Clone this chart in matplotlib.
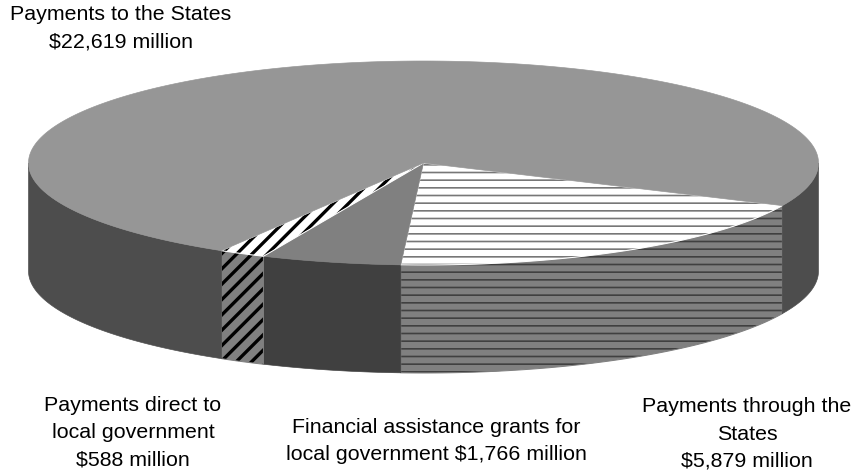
import matplotlib
matplotlib.use("Agg")
import matplotlib.pyplot as plt
from matplotlib.patches import Polygon
import numpy as np

plt.rcParams['font.family'] = ['Liberation Sans', 'DejaVu Sans']

# $ million, clockwise from the right hand side of the pie
names = ["Payments through the States", "Financial assistance grants",
         "Payments direct to local government", "Payments to the States"]
values = [5879, 1766, 588, 22619]

top_colors = ["white", "#808080", "white", "#969696"]
side_colors = ["#808080", "#404040", "#808080", "#4d4d4d"]
top_hatch = ["--", None, "//", None]
side_hatch_color = ["#404040", None, "black", None]
top_hatch_color = ["#777777", None, "black", None]
hatch_widths = [1.3, 0, 2.6, 0]

labels = ["Payments to the States\n$22,619 million",
          "Payments through the\nStates\n$5,879 million",
          "Financial assistance grants for\nlocal government $1,766 million",
          "Payments direct to\nlocal government\n$588 million"]
label_x = [121, 747, 436, 133]
label_y = [28, 434, 441, 433]

DPI = 92
cx, cy = 423.5, 163
rx, ry = 395, 102
depth = 108
start = 24.7


def ellipse_pts(a, b):
    t = np.radians(np.linspace(a, b, max(int(abs(b - a)) * 2, 2)))
    return cx + rx * np.cos(t), cy + ry * np.sin(t)


def add_poly(ax, xs, ys, face, hatch, hatch_color, lw):
    plt.rcParams['hatch.linewidth'] = lw if lw else 1.0
    pts = np.column_stack([xs, ys])
    if hatch:
        ax.add_patch(Polygon(pts, closed=True, facecolor=face, edgecolor=hatch_color,
                             hatch=hatch, linewidth=0))
        ax.add_patch(Polygon(pts, closed=True, fill=False, edgecolor=face, linewidth=0.8))
    else:
        ax.add_patch(Polygon(pts, closed=True, facecolor=face, edgecolor=face, linewidth=0.5))


def draw_side(ax, a, b, i):
    # only the front half of the rim can be seen
    a, b = max(a, 0), min(b, 180)
    if b <= a:
        return
    x, y = ellipse_pts(a, b)
    xs = np.concatenate([x, x[::-1]])
    ys = np.concatenate([y, y[::-1] + depth])
    add_poly(ax, xs, ys, side_colors[i], top_hatch[i], side_hatch_color[i], hatch_widths[i])


fig = plt.figure(figsize=(853 / DPI, 470 / DPI), dpi=DPI)
ax = fig.add_axes([0, 0, 1, 1])
ax.set_xlim(0, 853)
ax.set_ylim(470, 0)
ax.axis("off")

sweeps = np.array(values) / sum(values) * 360
edges = start + np.concatenate([[0], np.cumsum(sweeps)])

# rim first, the big slice wraps past 360 so it has two visible pieces
for i in range(len(values)):
    a, b = edges[i], edges[i + 1]
    draw_side(ax, a, b, i)
    draw_side(ax, a - 360, b - 360, i)

for i in range(len(values)):
    x, y = ellipse_pts(edges[i], edges[i + 1])
    add_poly(ax, np.r_[cx, x], np.r_[cy, y], top_colors[i], top_hatch[i],
             top_hatch_color[i], hatch_widths[i])

for s, x, y in zip(labels, label_x, label_y):
    ax.text(x, y, s, ha="center", va="center", fontsize=16.7, color="black", linespacing=1.55)

fig.savefig("out.png", dpi=DPI)
